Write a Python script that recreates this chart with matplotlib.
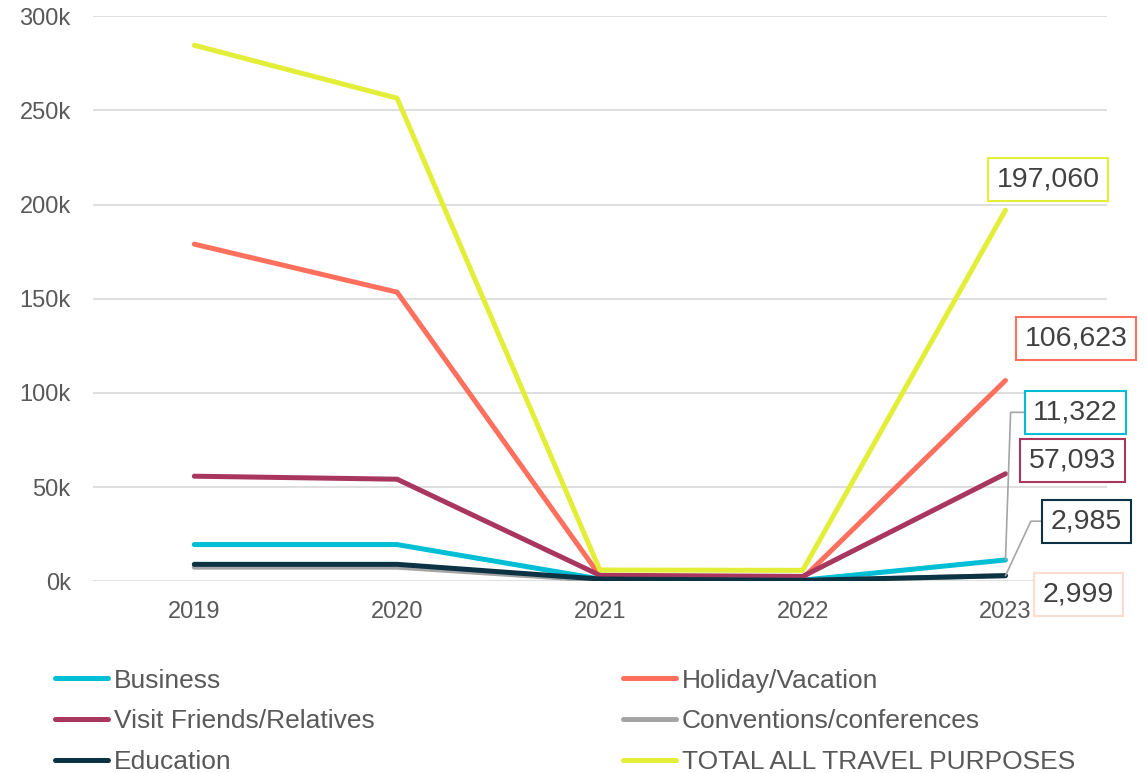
import matplotlib
matplotlib.use("Agg")
import matplotlib.pyplot as plt
from matplotlib.ticker import FuncFormatter

plt.rcParams['font.family'] = ['Liberation Sans', 'DejaVu Sans']

# data
years = ["2019", "2020", "2021", "2022", "2023"]
business = [19500, 19500, 1200, 600, 11322]
holiday = [179000, 153500, 3000, 1500, 106623]
vfr = [55800, 54200, 3200, 2600, 57093]
conventions = [7500, 7500, 500, 300, 2999]
education = [9000, 9000, 1200, 500, 2985]
total = [284600, 256500, 6000, 5800, 197060]

series = [
    ("Business", business, "#00BFD5"),
    ("Holiday/Vacation", holiday, "#FF6F5E"),
    ("Visit Friends/Relatives", vfr, "#A8365F"),
    ("Conventions/conferences", conventions, "#A5A5A5"),
    ("Education", education, "#0B3344"),
    ("TOTAL ALL TRAVEL PURPOSES", total, "#E2EE38"),
]

fig = plt.figure(figsize=(11.47, 7.73), dpi=100)
ax = fig.add_axes([0.081, 0.248, 0.884, 0.731])

x = list(range(len(years)))
lines = {}
for name, vals, col in series:
    ln, = ax.plot(x, vals, color=col, lw=3.6, solid_capstyle='round',
                  solid_joinstyle='round', label=name)
    lines[name] = ln

ax.set_xlim(-0.5, 4.5)
ax.set_ylim(0, 300000)
ax.set_yticks(range(0, 300001, 50000))
ax.yaxis.set_major_formatter(FuncFormatter(lambda v, p: f"{v/1000:.0f}k"))
ax.set_xticks(x)
ax.set_xticklabels(years)
ax.grid(axis='y', color='#D9D9D9', lw=1.2)
ax.set_axisbelow(True)
for s in ax.spines.values():
    s.set_visible(False)
ax.tick_params(length=0, labelsize=17, colors='#595959')
ax.tick_params(axis='x', pad=14)
ax.tick_params(axis='y', pad=16)

# end-point labels: values, border colour, box centre, leader angle
labels = [
    (total, "#E2EE38", (4.21, 213500), None),
    (holiday, "#FF6F5E", (4.35, 129000), None),
    (business, "#00BFD5", (4.345, 89700), 88),
    (vfr, "#A8365F", (4.33, 64300), None),
    (education, "#0B3344", (4.40, 31900), 65),
    (conventions, "#FBDCCF", (4.36, -6900), None),
]
for vals, col, pos, ang in labels:
    v = vals[-1]
    box = dict(boxstyle='square,pad=0.3', fc='white', ec=col, lw=1.5)
    if ang:
        ax.annotate(f"{v:,}", xy=(4, v), xytext=pos, textcoords='data',
                    fontsize=20.5, color='#404040', ha='center', va='center',
                    bbox=box, annotation_clip=False, zorder=5,
                    arrowprops=dict(arrowstyle='-', color='#A5A5A5', lw=1.2,
                                    relpos=(0, 0.5), shrinkA=0, shrinkB=0,
                                    connectionstyle=f'angle,angleA=0,angleB={ang},rad=0'))
    else:
        ax.text(pos[0], pos[1], f"{v:,}", fontsize=20.5, color='#404040',
                ha='center', va='center', bbox=box, clip_on=False, zorder=5)

order = ["Business", "Visit Friends/Relatives", "Education",
         "Holiday/Vacation", "Conventions/conferences", "TOTAL ALL TRAVEL PURPOSES"]
fig.legend([lines[n] for n in order], order, ncol=2, frameon=False,
           loc='upper left', bbox_to_anchor=(0.048, 0.135),
           fontsize=19, labelcolor='#595959', handlelength=2.0,
           handletextpad=0.23, columnspacing=9.42, labelspacing=0.63,
           borderaxespad=0, borderpad=0)

fig.savefig("out.png", dpi=100)
